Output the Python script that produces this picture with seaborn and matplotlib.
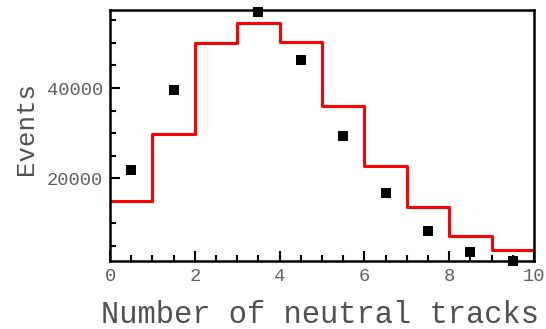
import matplotlib
matplotlib.use("Agg")
import matplotlib.pyplot as plt
import seaborn as sns
import numpy as np
import pandas as pd
from matplotlib.ticker import MultipleLocator

# Data
bin_edges = [0, 1, 2, 3, 4, 5, 6, 7, 8, 9, 10]
mc_counts = [15000, 29800, 50000, 54500, 50100, 36100, 22600, 13600, 7100, 4100]
data_x = [0.5, 1.5, 3.5, 4.5, 5.5, 6.5, 7.5, 8.5, 9.5]
data_counts = [21900, 39500, 56800, 46200, 29300, 16700, 8200, 3600, 1600]
x_ticks = [0, 2, 4, 6, 8, 10]
y_ticks = [20000, 40000]

sns.set_theme(style="white")
plt.rcParams['font.family'] = ['Liberation Mono', 'DejaVu Sans Mono']

fig = plt.figure(figsize=(5.46, 3.29), dpi=100)
ax = fig.add_axes([0.2015, 0.2067, 0.7765, 0.763])

step_df = pd.DataFrame({"x": bin_edges, "y": mc_counts + [mc_counts[-1]]})
sns.lineplot(data=step_df, x="x", y="y", drawstyle="steps-post", color="#ff0000",
             linewidth=2.2, ax=ax, zorder=2)
pts_df = pd.DataFrame({"x": data_x, "y": data_counts})
sns.scatterplot(data=pts_df, x="x", y="y", marker="s", s=45, color="black",
                edgecolor="black", linewidth=0, ax=ax, zorder=3, clip_on=False)

ax.set_xlim(0, 10)
ax.set_ylim(1650, 57300)
ax.set_xticks(x_ticks)
ax.set_yticks(y_ticks)
ax.xaxis.set_minor_locator(MultipleLocator(0.5))
ax.yaxis.set_minor_locator(MultipleLocator(5000))
ax.tick_params(axis="both", which="major", direction="in", length=7, width=1.5,
               colors="black", labelcolor="#606060", labelsize=13.5,
               top=False, right=False, bottom=True, left=True, pad=5)
ax.tick_params(axis="both", which="minor", direction="in", length=4, width=1.5,
               colors="black", top=False, right=False, bottom=True, left=True)
for sp in ax.spines.values():
    sp.set_visible(True)
    sp.set_color("black")
    sp.set_linewidth(1.8)

ax.set_xlabel("Number of neutral tracks", fontsize=22, color="#505050")
ax.set_ylabel("Events", fontsize=18.5, color="#505050")
ax.xaxis.set_label_coords(0.495, -0.155)
ax.yaxis.set_label_coords(-0.17, 0.528)
ax.grid(False)

fig.savefig("out.png", dpi=100)
